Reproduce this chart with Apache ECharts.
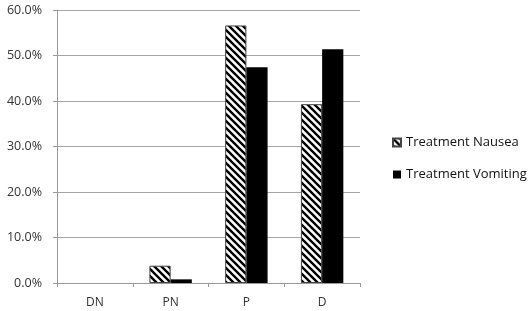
<!DOCTYPE html>
<html>
<head>
<meta charset="utf-8">
<script src="https://cdn.jsdelivr.net/npm/echarts@6/dist/echarts.min.js"></script>
<style>
  html, body { margin: 0; padding: 0; background: #fff; }
  #chart { width: 529px; height: 311px; }
</style>
</head>
<body>
<div id="chart"></div>
<script>
const categories = ["DN", "PN", "P", "D"];
const nauseaValues = [0, 3.8, 56.6, 39.3];
const vomitingValues = [0, 0.8, 47.4, 51.4];
const yTicks = [0, 10, 20, 30, 40, 50, 60];

// hatch pattern for the nausea bars ("\" stripes)
function makeHatch() {
  const size = 7;
  const c = document.createElement("canvas");
  c.width = size;
  c.height = size;
  const ctx = c.getContext("2d");
  ctx.fillStyle = "#fff";
  ctx.fillRect(0, 0, size, size);
  ctx.strokeStyle = "#000";
  ctx.lineWidth = 2.4;
  ctx.beginPath();
  ctx.moveTo(-1, -1);
  ctx.lineTo(size + 1, size + 1);
  ctx.moveTo(-size - 1, -1);
  ctx.lineTo(1, size + 1);
  ctx.moveTo(size - 1, -1);
  ctx.lineTo(2 * size + 1, size + 1);
  ctx.stroke();
  return c;
}

// zero bars get no outline, like the original
function withBorder(values) {
  return values.map((v) => (v === 0 ? { value: v, itemStyle: { borderWidth: 0 } } : v));
}

const chart = echarts.init(document.getElementById("chart"));
const FONT = "Open Sans";

const option = {
  animation: false,
  grid: { left: 57, right: 169, top: 10, bottom: 28 },
  legend: {
    orient: "vertical",
    left: 387,
    top: 131,
    itemGap: 19,
    itemWidth: 8,
    itemHeight: 8,
    icon: "rect",
    textStyle: { fontFamily: FONT, fontSize: 13, color: "#111" },
    data: ["Treatment Nausea", "Treatment Vomiting"],
  },
  xAxis: {
    type: "category",
    data: categories,
    axisLine: { lineStyle: { color: "#999", width: 1 } },
    axisTick: { show: true, alignWithLabel: false, length: 4, lineStyle: { color: "#999" } },
    axisLabel: { fontFamily: FONT, fontSize: 12, color: "#333", margin: 14 },
  },
  yAxis: {
    type: "value",
    min: yTicks[0],
    max: yTicks[yTicks.length - 1],
    interval: 10,
    axisLine: { show: true, lineStyle: { color: "#999", width: 1 } },
    axisTick: { show: true, length: 4, lineStyle: { color: "#999" } },
    splitLine: { show: true, lineStyle: { color: "#a6a6a6", width: 1 } },
    axisLabel: {
      fontFamily: FONT,
      fontSize: 12.5,
      color: "#333",
      margin: 15,
      formatter: (v) => v.toFixed(1) + "%",
    },
  },
  series: [
    {
      name: "Treatment Nausea",
      type: "bar",
      data: withBorder(nauseaValues),
      barGap: "0%",
      barCategoryGap: "44%",
      itemStyle: {
        color: { image: makeHatch(), repeat: "repeat" },
        borderColor: "#444",
        borderWidth: 1,
      },
    },
    {
      name: "Treatment Vomiting",
      type: "bar",
      data: vomitingValues,
      barGap: "0%",
      barCategoryGap: "44%",
      itemStyle: { color: "#000" },
    },
  ],
};

chart.setOption(option);
</script>
</body>
</html>
